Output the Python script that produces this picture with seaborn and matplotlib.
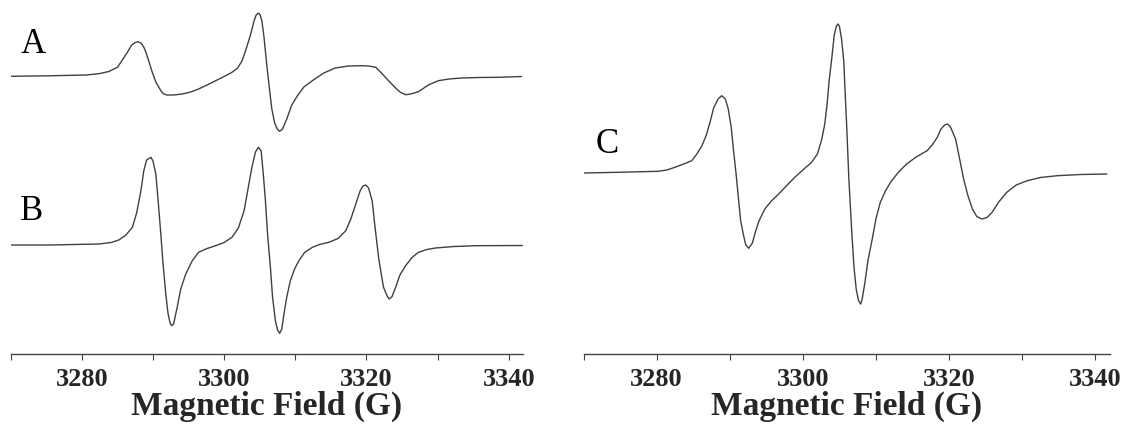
# EPR spectra of samples A, B (left panel) and C (right panel)
import numpy as np
import matplotlib
matplotlib.use("Agg")
import matplotlib.pyplot as plt
import seaborn as sns

# -----------------------------
# Data (field in G, intensity in arbitrary units)
# -----------------------------
field_a = [3269.9, 3275.4, 3280.6, 3282.4, 3283.8, 3285.0, 3285.6, 3286.4, 3287.0,
           3287.5, 3287.9, 3288.3, 3288.7, 3289.0, 3289.4, 3289.9, 3290.4, 3291.1,
           3291.5, 3292.0, 3292.9, 3294.1, 3295.3, 3296.4, 3297.6, 3298.8, 3300.0,
           3301.1, 3301.9, 3302.5, 3303.0, 3303.7, 3304.2, 3304.5, 3304.8, 3305.0,
           3305.3, 3305.6, 3306.0, 3306.4, 3306.7, 3307.1, 3307.5, 3307.8, 3308.2,
           3308.5, 3308.8, 3309.5, 3310.3, 3311.2, 3312.4, 3314.0, 3315.6, 3317.5,
           3319.4, 3320.3, 3321.3, 3322.1, 3323.1, 3324.1, 3324.8, 3325.5, 3326.2,
           3327.3, 3328.7, 3330.1, 3331.6, 3333.4, 3335.8, 3338.6, 3341.8]
signal_a = [0, 0.5, 1.3, 2.6, 4.8, 9, 15.3, 24, 31.3,
            33.8, 34.6, 33.3, 29.3, 24, 15.3, 4, -5.7, -14.4,
            -17.7, -18.7, -18.7, -17.7, -15.7, -12.7, -8.7, -4.4, -0.2,
            4, 8.3, 15.3, 25.3, 41.3, 55.3, 61.3, 63.1, 62.3,
            55.6, 39.3, 10.6, -14.7, -32.7, -46.7, -53.2, -55, -52.7,
            -47.7, -42.7, -28.7, -19.4, -10.7, -4.4, 3.3, 8.3, 10.3,
            10.6, 10.3, 9, 3.3, -4.4, -11.7, -16.2, -18.4, -17.7,
            -15.4, -8.7, -4.4, -2.7, -1.7, -1.2, -1, -0.2]

field_b = [3269.9, 3275.4, 3282.4, 3284.1, 3285.2, 3286.2, 3287.1, 3287.7, 3288.3,
           3288.7, 3289.1, 3289.7, 3290.0, 3290.4, 3290.7, 3291.1, 3291.4, 3291.8,
           3292.1, 3292.4, 3292.6, 3292.9, 3293.1, 3293.4, 3293.9, 3294.6, 3295.5,
           3296.4, 3297.6, 3298.8, 3300.0, 3301.1, 3302.0, 3302.8, 3303.3, 3303.9,
           3304.4, 3304.8, 3305.2, 3305.5, 3305.8, 3306.1, 3306.5, 3306.8, 3307.2,
           3307.5, 3307.8, 3308.1, 3308.4, 3308.8, 3309.3, 3309.9, 3310.5, 3311.3,
           3312.4, 3313.4, 3314.7, 3316.0, 3317.1, 3317.8, 3318.5, 3319.1, 3319.5,
           3319.9, 3320.3, 3320.8, 3321.2, 3321.7, 3322.1, 3322.4, 3322.9, 3323.2,
           3323.6, 3324.1, 3324.7, 3325.5, 3326.4, 3327.3, 3328.5, 3329.7, 3332.3,
           3335.3, 3341.9]
signal_b = [0, 0, 1, 2.5, 5, 10, 17.7, 32, 54.3,
            74, 85, 87.7, 84, 71, 46, 11, -18, -49,
            -68, -78, -80.7, -79, -72, -62.3, -44, -29, -16,
            -7.3, -3.5, -0.7, 2.5, 7.7, 17, 34.3, 54, 77.7,
            93, 97.7, 94, 71, 44.3, 11, -22.3, -52, -75.7,
            -85, -88.3, -84, -69, -52, -35.7, -24, -15.7, -7.5,
            -2.3, 0.5, 2.7, 6.5, 14.3, 26, 41, 54, 59,
            60, 57, 44.3, 18, -12.3, -30, -42.3, -51, -54,
            -51.5, -42.3, -30, -20.7, -12.5, -7.3, -4.5, -3, -1.5,
            -0.7, -0.5]

field_c = [3269.9, 3274.7, 3280.2, 3281.4, 3282.5, 3283.7, 3284.8, 3285.5, 3286.2,
           3286.8, 3287.3, 3287.8, 3288.4, 3288.9, 3289.4, 3289.8, 3290.2, 3290.5,
           3290.9, 3291.2, 3291.5, 3291.9, 3292.2, 3292.6, 3293.1, 3293.5, 3294.0,
           3294.8, 3295.7, 3296.7, 3297.8, 3298.9, 3300.0, 3301.2, 3302.0, 3302.6,
           3303.0, 3303.3, 3303.6, 3304.0, 3304.3, 3304.6, 3304.8, 3305.0, 3305.3,
           3305.6, 3305.8, 3306.0, 3306.3, 3306.7, 3307.0, 3307.3, 3307.6, 3307.9,
           3308.1, 3308.5, 3308.9, 3309.5, 3310.0, 3310.6, 3311.3, 3312.0, 3313.1,
           3314.2, 3315.5, 3317.0, 3317.7, 3318.4, 3318.9, 3319.4, 3319.8, 3320.2,
           3320.9, 3321.4, 3322.0, 3322.6, 3323.2, 3323.8, 3324.5, 3325.2, 3325.9,
           3326.8, 3327.9, 3329.2, 3330.7, 3332.5, 3334.8, 3338.0, 3341.6]
signal_c = [0, 0.7, 1.7, 3, 5.7, 9, 12.3, 19, 27.3,
            38, 50.7, 65, 74, 77.3, 74, 64, 46, 24,
            -3, -26, -48, -62.7, -72, -75.3, -70, -59.3, -48,
            -36, -28, -21, -12.5, -4.3, 3, 10.7, 19, 34,
            49, 67.3, 92, 117.3, 138, 147, 149, 147, 134,
            112, 79, 47.3, -6, -59.3, -94, -116, -127, -131,
            -127, -109.3, -88, -66, -46, -29.3, -18, -9.3, 1,
            9, 16, 22.3, 28, 35.7, 44, 48, 49, 46,
            34, 16, -6, -23, -36, -43.5, -46, -44.5, -39.3,
            -29, -19.3, -12, -7.7, -4.5, -2.7, -1.5, -1]

labels = ["A", "B", "C"]
tick_values = [3280, 3300, 3320, 3340]
minor_tick_values = [3270, 3290, 3310, 3330]

# -----------------------------
# Style
# -----------------------------
sns.set_style("white")
plt.rcParams["font.family"] = ["Liberation Serif", "DejaVu Serif"]

fig = plt.figure(figsize=(11.25, 4.27), dpi=100)
ax_left = fig.add_axes([0.0095, 0.1686, 0.4554, 0.8314])
ax_right = fig.add_axes([0.5187, 0.1686, 0.4678, 0.8314])

line_kw = dict(color="#404040", linewidth=1.0, estimator=None, sort=False)

# vertical offsets to stack the traces
offset_a, offset_b, offset_c = 277.7, 109, 181

sns.lineplot(x=field_a, y=np.array(signal_a) + offset_a, ax=ax_left, **line_kw)
sns.lineplot(x=field_b, y=np.array(signal_b) + offset_b, ax=ax_left, **line_kw)
sns.lineplot(x=field_c, y=np.array(signal_c) + offset_c, ax=ax_right, **line_kw)

label_pos = [(ax_left, 0.0435, 0.876), (ax_left, 0.0416, 0.403), (ax_right, 0.0447, 0.594)]
for lab, (ax, lx, ly) in zip(labels, label_pos):
    ax.text(lx, ly, lab, transform=ax.transAxes, ha="center", va="center",
            fontsize=25, color="black")

for ax in (ax_left, ax_right):
    ax.set_xlim(3270, 3342)
    ax.set_ylim(0, 355)
    ax.set_yticks([])
    ax.set_ylabel("")
    for side in ("top", "right", "left"):
        ax.spines[side].set_visible(False)
    ax.spines["bottom"].set_color("#444444")
    ax.spines["bottom"].set_linewidth(1.0)
    ax.set_xticks(tick_values)
    ax.set_xticks(minor_tick_values, minor=True)
    ax.tick_params(axis="x", which="both", direction="out", length=4, width=0.8,
                   color="#444444", bottom=True, pad=5)
    ax.tick_params(axis="x", which="major", labelsize=19)
    for t in ax.get_xticklabels():
        t.set_fontweight("bold")
    ax.set_xlabel("Magnetic Field (G)", fontsize=24, fontweight="bold", labelpad=0)

fig.savefig("out.png", dpi=100)
